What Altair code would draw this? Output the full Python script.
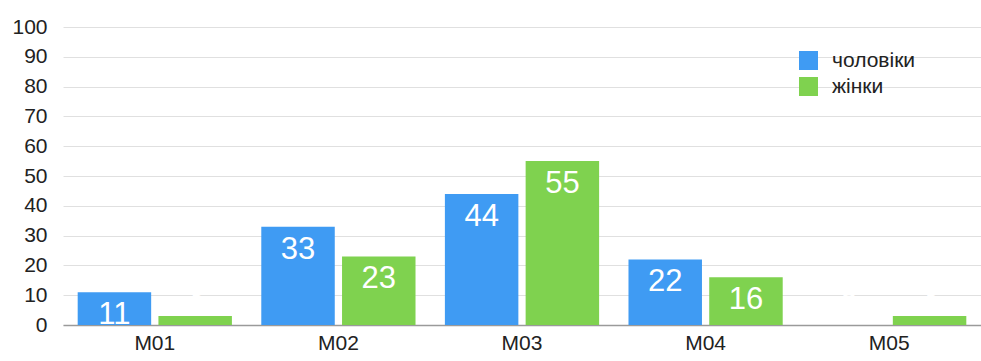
import altair as alt
import pandas as pd

# Survey counts per module, split by gender
categories = ["M01", "M02", "M03", "M04", "M05"]
men = [11, 33, 44, 22, 0]
women = [3, 23, 55, 16, 3]
series = ["чоловіки", "жінки"]
colors = ["#3f9bf3", "#7fd24f"]

rows = []
for i, c in enumerate(categories):
    rows.append({"cat": c, "group": series[0], "value": men[i]})
    rows.append({"cat": c, "group": series[1], "value": women[i]})
df = pd.DataFrame(rows)

FONT = "Liberation Sans"
AXIS_FS = 21

x_enc = alt.X(
    "cat:N",
    sort=categories,
    scale=alt.Scale(paddingInner=0.16, paddingOuter=0.08),
    axis=alt.Axis(
        title=None, labelAngle=0, ticks=False, domain=True, domainColor="#9a9a9a",
        domainWidth=1.5, labelPadding=7, labelFontSize=AXIS_FS, labelColor="#222222",
        labelFont=FONT, grid=False,
    ),
)
xoff = alt.XOffset("group:N", sort=series, scale=alt.Scale(paddingInner=0.09, paddingOuter=0))
y_enc = alt.Y(
    "value:Q",
    scale=alt.Scale(domain=[0, 100], nice=False),
    axis=alt.Axis(
        title=None, values=list(range(0, 101, 10)), ticks=False, domain=False,
        labelPadding=16, labelFontSize=AXIS_FS, labelColor="#222222", labelFont=FONT,
        gridColor="#e0e0e0", gridWidth=1,
    ),
)
color_enc = alt.Color(
    "group:N",
    sort=series,
    scale=alt.Scale(domain=series, range=colors),
    legend=alt.Legend(
        title=None, orient="none", legendX=735, legendY=23, symbolType="square",
        symbolSize=361, symbolStrokeWidth=0, symbolOpacity=1, labelFontSize=AXIS_FS,
        labelFont=FONT, labelColor="#222222", rowPadding=4, labelOffset=13, padding=0,
    ),
)

base = alt.Chart(df)

bars = base.mark_bar().encode(x=x_enc, xOffset=xoff, y=y_enc, color=color_enc)

labels_in = base.transform_filter("datum.value >= 8").mark_text(
    baseline="top", dy=8, color="white", fontSize=31, font=FONT
).encode(x=x_enc, xOffset=xoff, y=y_enc, text="value:Q")

labels_out = base.transform_filter("datum.value < 8").mark_text(
    baseline="bottom", dy=-3, color="white", fontSize=31, font=FONT
).encode(x=x_enc, xOffset=xoff, y=y_enc, text="value:Q")

chart = (
    alt.layer(bars, labels_in, labels_out)
    .properties(
        width=918,
        height=298,
        autosize=alt.AutoSizeParams(type="none"),
        padding={"left": 63, "top": 27, "right": 0, "bottom": 36},
        background="white",
    )
    .configure_view(stroke=None)
)

chart.save("out.html", embed_options={"renderer": "svg", "actions": False})
